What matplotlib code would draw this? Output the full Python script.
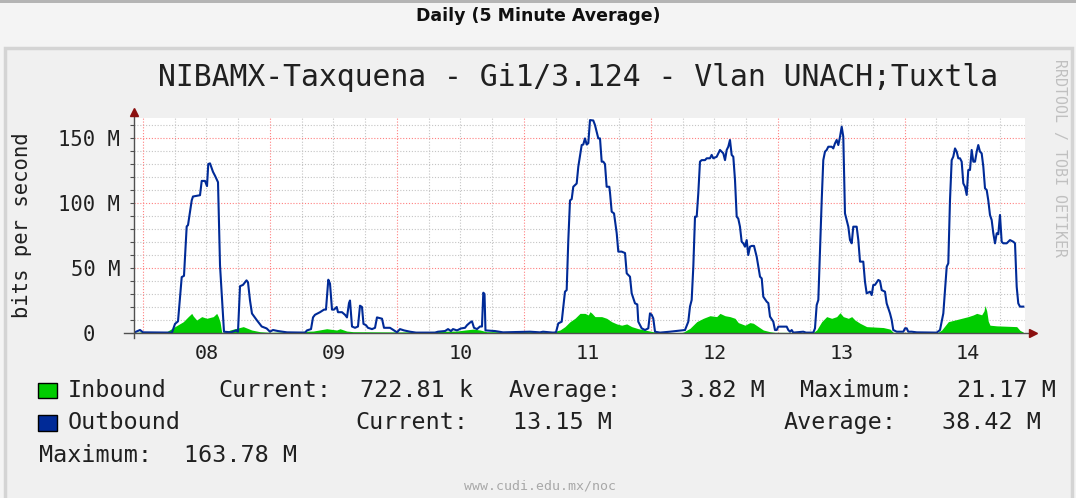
import matplotlib
matplotlib.use('Agg')
import matplotlib.pyplot as plt
from matplotlib.patches import Rectangle

W, H = 1076, 498

# ---------------- data (hours since day 08 00:00, Mbit/s) ----------------
out_hours = [-1.70, -0.57, 0.0, 5.48, 6.05, 6.62, 7.32, 7.75, 8.26, 8.51, 9.21, 9.45, 10.78, 11.10,
             11.72, 12.10, 12.34, 12.67, 13.23, 13.61, 14.18, 14.56, 15.31, 16.64, 17.58, 17.96,
             18.34, 18.90, 19.57, 19.85, 20.23, 20.60, 21.49, 22.44, 23.38, 24.0, 24.57, 25.52,
             27.22, 30.62, 31.0, 31.76, 32.14, 32.51, 33.46, 34.22, 34.59, 35.03, 35.35, 35.73,
             36.11, 36.62, 36.86, 37.62, 38.19, 38.56, 38.94, 39.13, 39.51, 40.08, 40.64, 41.02,
             41.40, 41.68, 42.16, 42.53, 43.29, 43.86, 44.23, 45.18, 45.56, 46.69, 47.26, 48.02,
             48.58, 49.34, 50.47, 51.61, 55.20, 55.77, 57.09, 57.66, 58.22, 58.60, 59.36, 60.11,
             60.87, 61.25, 61.81, 62.19, 62.57, 63.14, 63.71, 64.08, 64.33, 64.56, 64.74, 66.54,
             68.05, 73.16, 75.05, 75.61, 77.50, 78.07, 78.51, 79.15, 79.77, 80.09, 80.40, 80.72,
             81.04, 81.34, 81.98, 82.29, 82.93, 83.23, 83.55, 83.87, 84.18, 84.50, 85.12, 85.44,
             86.07, 86.39, 86.71, 87.01, 87.33, 87.65, 88.15, 88.28, 88.60, 89.04, 89.55, 89.85,
             90.49, 91.12, 91.44, 92.06, 92.38, 93.01, 93.44, 93.63, 94.27, 94.90, 95.52, 95.84,
             96.16, 96.46, 96.79, 97.73, 99.62, 102.46, 103.08, 103.40, 103.72, 104.03, 104.35,
             104.67, 104.97, 105.29, 105.61, 106.24, 106.56, 107.18, 107.50, 107.81, 108.45,
             108.75, 109.07, 109.39, 109.70, 110.02, 110.34, 110.64, 110.96, 111.28, 111.59,
             111.91, 112.23, 112.53, 112.85, 113.17, 113.48, 113.80, 114.12, 114.42, 114.74,
             115.07, 115.50, 116.01, 116.64, 116.96, 117.26, 117.90, 118.21, 118.53, 119.15,
             119.47, 119.79, 120.10, 121.68, 121.99, 122.31, 122.63, 122.93, 124.82, 125.33,
             126.71, 127.03, 127.35, 127.66, 127.98, 128.30, 128.60, 128.92, 129.24, 129.55,
             130.19, 130.49, 130.81, 131.13, 131.44, 131.76, 132.08, 132.38, 132.51, 132.70,
             133.02, 133.33, 133.65, 133.97, 134.27, 134.91, 135.22, 135.54, 136.16, 136.48,
             136.80, 137.43, 137.75, 138.05, 138.37, 139.00, 139.32, 139.64, 140.26, 140.58,
             141.21, 141.53, 141.83, 142.48, 143.73, 144.05, 144.37, 144.67, 145.31, 146.26,
             150.04, 150.66, 151.29, 151.61, 151.93, 152.23, 152.55, 152.87, 153.17, 153.50,
             153.82, 154.12, 154.44, 154.76, 155.07, 155.39, 155.71, 156.01, 156.33, 156.65,
             156.96, 157.28, 157.60, 157.90, 158.22, 158.54, 158.85, 159.17, 159.49, 159.79,
             160.11, 160.43, 160.74, 161.06, 161.38, 161.68, 162.0, 162.32, 162.63, 163.27,
             163.89, 164.52, 164.84, 165.16, 165.46, 165.78, 166.41]
out_mbps = [0.3, 2.3, 0.5, 0.3, 7, 9, 43, 44, 82, 83, 102, 105, 106, 117,
            117, 113, 130, 130.5, 124, 121, 116, 52, 1, 0.5, 2, 1,
            36, 37, 40.5, 39, 25, 15, 10, 5, 3.5, 1, 2.3, 1.5,
            0.5, 0.3, 2, 3, 12, 14, 16, 18, 18, 41, 38, 18,
            18, 20, 16, 16, 14, 12, 23, 25, 5, 4, 5, 21,
            20, 7, 6, 4, 3, 4, 12, 11, 4, 4, 2.5, 0.5,
            3, 2, 1, 0.3, 0.3, 1, 1.5, 3, 1.5, 3, 2, 3.5,
            4, 6, 8, 9, 4, 3, 5, 5, 31, 30, 2, 1.5,
            0.5, 1, 0.5, 1, 0.3, 0.5, 7.4, 8.7, 31.8, 33, 71.5, 102,
            103, 112.5, 115, 128, 144.6, 145, 149.7, 145, 146, 163.8, 163.5, 160,
            149.7, 149.7, 131.8, 131.8, 130, 112.5, 112.5, 108, 93.3, 92, 76.7, 62.6,
            62.6, 61.5, 45.9, 43.3, 30.5, 22.8, 22, 8.7, 3.6, 2.3, 3.6, 15.1,
            14, 11.3, 1, 0.3, 1, 2.3, 8.7, 20.3, 25.4, 51, 89.5,
            89.5, 107.4, 131.8, 133, 133, 134.4, 134.4, 137, 134.4, 135.6,
            138.2, 140.8, 139.5, 138.2, 133, 140.8, 143.3, 148.5, 137, 135.6,
            117.7, 89.5, 88, 81.8, 70.2, 69, 66.4, 71.5, 60, 66.4,
            67, 67, 58.7, 43.3, 42, 27.9, 24.1, 23, 12.6, 8.7,
            2.3, 2.3, 4.9, 4.9, 2.3, 1, 2.3, 0.3, 1, 0.3,
            0.3, 3.6, 21.5, 25.4, 63.8, 102, 133, 139.5, 140.8, 143.3,
            143.3, 142, 145.9, 148.5, 144.6, 151, 158.7, 151, 128, 92,
            86.9, 81.8, 71.5, 69, 81.8, 81.8, 71.5, 54.9, 54.9, 39.5,
            30.5, 31.8, 29.2, 36.9, 37, 40.8, 40, 33, 31.8, 22.8,
            15.1, 10, 2.3, 1, 1, 3.6, 3.6, 1, 1, 0.5,
            0.3, 2.3, 15.1, 33, 51, 53.6, 102, 133, 135.6, 142,
            139.5, 134.4, 134.4, 131.8, 115.1, 112.5, 106.2, 125.4, 125.4, 140.8,
            131.8, 131.8, 139.5, 144.6, 139.5, 138.2, 128, 111.3, 110, 102,
            90.8, 86.9, 76.7, 69, 76.7, 76, 90.8, 70.2, 69, 69,
            71.5, 70.2, 69, 35.6, 22.8, 20.3, 20.3]

in_hours = [-1.70, 0.38, 3.21, 4.48, 6.05, 7.62, 8.56, 9.21, 9.51, 10.15, 11.10, 12.04, 13.29,
            13.93, 14.23, 14.56, 14.88, 15.82, 16.45, 17.71, 18.96, 20.55, 22.12, 24.01, 32.19,
            34.73, 36.62, 37.24, 38.51, 39.75, 48.58, 59.30, 60.87, 62.44, 63.71, 64.97, 77.56,
            78.83, 79.77, 80.72, 81.66, 82.61, 83.55, 84.18, 84.50, 84.88, 85.44, 86.71, 87.65,
            88.60, 89.55, 90.49, 91.44, 92.38, 93.63, 95.22, 96.46, 97.73, 102.08, 103.40,
            104.67, 105.92, 107.18, 108.45, 109.07, 110.02, 110.96, 111.91, 112.53, 113.80,
            114.74, 115.37, 116.31, 117.26, 118.53, 119.47, 126.71, 127.35, 128.30, 129.24,
            130.19, 131.13, 131.76, 132.38, 133.33, 133.97, 134.59, 135.54, 136.80, 139.94,
            141.21, 141.83, 150.28, 150.98, 152.23, 153.50, 154.76, 156.01, 156.96, 157.60,
            158.54, 158.98, 159.17, 159.49, 159.79, 160.11, 161.38, 165.16, 165.78, 166.41]
in_mbps = [0.3, 1, 0.8, 1, 4.9, 8.7, 12.6, 15.1, 13, 10, 12.6, 11.3, 12.6,
           15.1, 12.6, 8.7, 0.5, 1, 2.3, 3.6, 4.9, 2.3, 1, 0.5, 1.5,
           3.3, 2.3, 3.3, 1.5, 1, 0.8, 1.5, 2.3, 3, 2.3, 1, 1,
           2.3, 4.9, 8.7, 11.3, 15.1, 15.1, 13.9, 16.4, 15.1, 12.6, 12.6, 11.3,
           8.7, 7, 6, 7, 4.9, 3.3, 2, 1, 0.3, 0.5, 3.6,
           8.7, 11.3, 13.3, 12.6, 15.1, 13.3, 12.6, 11.3, 8, 6,
           8, 7.5, 4.9, 2.3, 1, 0.5, 0.5, 2.3, 8.7, 12.6,
           11.3, 12.6, 15.6, 12.6, 11.3, 12.6, 10, 7.5, 4.9, 4.2,
           3, 0.5, 0.5, 2.3, 8.7, 10, 11.3, 12.6, 13.9, 15.1,
           14, 17, 21.2, 17, 9, 6, 5.5, 4.9, 2, 0.7]

day_labels = ['08', '09', '10', '11', '12', '13', '14']
y_ticks = [0, 50, 100, 150]
y_tick_labels = ['0  ', '50 M', '100 M', '150 M']

header = 'Daily (5 Minute Average)'
title = 'NIBAMX-Taxquena - Gi1/3.124 - Vlan UNACH;Tuxtla'
ylabel = 'bits per second'
watermark = 'RRDTOOL / TOBI OETIKER'
credit = 'www.cudi.edu.mx/noc'

in_name, out_name = 'Inbound', 'Outbound'
in_current, in_average, in_maximum = '722.81 k', '3.82 M', '21.17 M'
out_current, out_average, out_maximum = '13.15 M', '38.42 M', '163.78 M'

IN_COLOR = '#00CC00'
OUT_COLOR = '#002A97'
MONO = 'DejaVu Sans Mono'

# ---------------- figure ----------------
fig = plt.figure(figsize=(W / 100, H / 100), dpi=100, facecolor='#f4f4f4')


def fx(x):
    return x / W


def fy(y):
    return 1 - y / H


fig.patches.append(Rectangle((0, fy(3)), 1, 3 / H, transform=fig.transFigure,
                             facecolor='#b4b4b4', edgecolor='none', zorder=-10))
fig.patches.append(Rectangle((fx(5), fy(510)), (1072 - 5) / W, (510 - 48) / H,
                             transform=fig.transFigure, facecolor='#f0f0f0',
                             edgecolor='#d4d4d4', lw=2.5, zorder=-10))

ax = fig.add_axes([fx(134), fy(333), (1025 - 134) / W, (333 - 118) / H])
ax.set_zorder(1)
ax.set_facecolor('white')
x0, x1 = -1.70, 166.73
ax.set_xlim(x0, x1)
ax.set_ylim(0, 165.4)
for s in ax.spines.values():
    s.set_visible(False)

# grid
dot = (0, (1, 1.6))
for v in range(10, 166, 10):
    if v % 50:
        ax.axhline(v, color='#c4c4c4', lw=0.8, ls=dot, zorder=0)
for v in (50, 100, 150):
    ax.axhline(v, color='#ff8080', lw=0.8, ls=dot, zorder=0.5)
for d in range(7):
    for q in (6, 12, 18):
        ax.axvline(24 * d + q, color='#c4c4c4', lw=0.8, ls=dot, zorder=0)
    ax.axvline(24 * d, color='#ff8080', lw=0.8, ls=dot, zorder=0.5)

# data
ax.fill_between(in_hours, in_mbps, 0, color=IN_COLOR, lw=0, zorder=2)
ax.plot(out_hours, out_mbps, color=OUT_COLOR, lw=1.5, zorder=3)

# axes lines + arrows
ax.plot([-10 / 891, (1030 - 134) / 891], [0, 0], transform=ax.transAxes,
        color='#505050', lw=1.0, clip_on=False, zorder=4)
ax.plot([0, 0], [-5 / 215, (333 - 113) / 215], transform=ax.transAxes,
        color='#505050', lw=1.0, clip_on=False, zorder=4)
ax.plot([(1033 - 134) / 891], [0], transform=ax.transAxes, marker='>', ms=6,
        color='#8b1010', clip_on=False, zorder=5)
ax.plot([0], [(333 - 112) / 215], transform=ax.transAxes, marker='^', ms=6,
        color='#8b1010', clip_on=False, zorder=5)

# ticks
ax.set_yticks(y_ticks)
ax.set_yticklabels(y_tick_labels, family=MONO, fontsize=14.8, color='#202020')
ax.set_yticks([v for v in range(10, 166, 10) if v % 50], minor=True)
ax.tick_params(axis='y', which='both', length=3, width=0.8, color='#505050', pad=7)
ax.set_xticks([24 * i + 12 for i in range(len(day_labels))])
ax.set_xticklabels(day_labels, family=MONO, fontsize=14.5, color='#202020')
ax.tick_params(axis='x', which='both', length=0, pad=8)

# texts
fig.text(fx(538), fy(16), header, ha='center', va='center', fontsize=12.5,
         fontweight='bold', family='DejaVu Sans', color='#101010')
fig.text(fx(578.5), fy(77), title, ha='center', va='center', fontsize=21.4,
         family=MONO, color='#202020')
fig.text(fx(22), fy(225.5), ylabel, ha='center', va='center', rotation=90,
         fontsize=14.8, family=MONO, color='#202020')
fig.text(fx(1060), fy(158), watermark, ha='center', va='center', rotation=270,
         fontsize=10.8, family=MONO, color='#c0c0c0')
fig.text(fx(540), fy(486), credit, ha='center', va='center', fontsize=9.5,
         family=MONO, color='#a8a8a8')

# legend
fig.patches.append(Rectangle((fx(38), fy(398)), 19 / W, 15 / H, transform=fig.transFigure,
                             facecolor=IN_COLOR, edgecolor='black', lw=1, zorder=3))
fig.patches.append(Rectangle((fx(38), fy(431)), 19 / W, 16 / H, transform=fig.transFigure,
                             facecolor=OUT_COLOR, edgecolor='black', lw=1, zorder=3))
rows = [
    (396.7, [(in_name, 68), ('Current:', 218), (in_current, 360), ('Average:', 509),
             (in_average, 680), ('Maximum:', 800), (in_maximum, 957)]),
    (429.3, [(out_name, 68), ('Current:', 355), (out_current, 513), ('Average:', 784),
             (out_average, 942)]),
    (461.7, [('Maximum:', 39), (out_maximum, 184)]),
]
for yb, items in rows:
    for txt, xl in items:
        fig.text(fx(xl), fy(yb), txt, ha='left', va='baseline', fontsize=16.8,
                 family=MONO, color='#202020')

fig.savefig('out.png', dpi=100, facecolor=fig.get_facecolor())
